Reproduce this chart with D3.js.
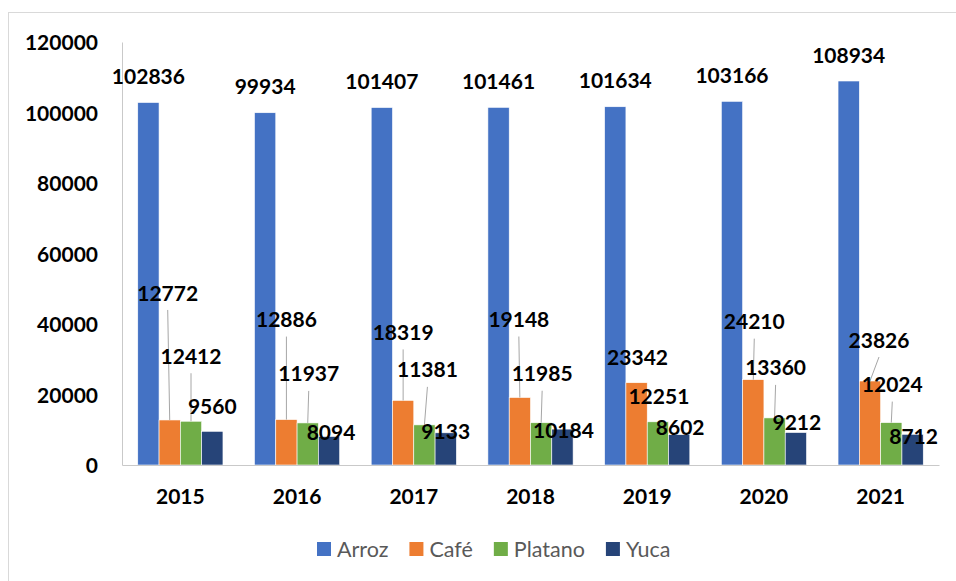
<!DOCTYPE html>
<html>
<head>
<meta charset="utf-8">
<script src="https://cdn.jsdelivr.net/npm/d3@7"></script>
<style>
  body { margin: 0; background: #fff; }
  svg { display: block; }
  text { font-family: Lato, "Open Sans", sans-serif; }
</style>
</head>
<body>
<svg id="chart" width="956" height="581"></svg>
<script>
// data
var years = ["2015", "2016", "2017", "2018", "2019", "2020", "2021"];
var series = ["Arroz", "Café", "Platano", "Yuca"];
var arroz = [102836, 99934, 101407, 101461, 101634, 103166, 108934];
var cafe = [12772, 12886, 18319, 19148, 23342, 24210, 23826];
var platano = [12412, 11937, 11381, 11985, 12251, 13360, 12024];
var yuca = [9560, 8094, 9133, 10184, 8602, 9212, 8712];
var yTicks = [0, 20000, 40000, 60000, 80000, 100000, 120000];

var colors = ["#4472C4", "#ED7D31", "#70AD47", "#264478"];

// where the (hand moved) labels sit, in px from the bar top
var labelDx = [
  [0, 0, 0, 0, 0, 0, 0],
  [-2, 0, 0, -1, 1, 1, 9],
  [0, 1, 3, 1, 1, 1, 1],
  [0, 2, 0, 1, 1, 1, 1]
];
var labelDy = [
  [-26, -26, -26, -26, -26, -26, -26],
  [-127, -100, -68, -78, -25, -58, -41],
  [-65, -49, -55, -49, -25, -50, -38],
  [-25, -4, -1, 1, -7, -10, 2]
];

var values = [arroz, cafe, platano, yuca];

var rows = [];
years.forEach(function (yr, i) {
  series.forEach(function (s, j) {
    rows.push({ year: yr, key: s, si: j, yi: i, value: values[j][i] });
  });
});

var svg = d3.select("#chart");

// chart area border (only top/left visible in the picture)
svg.append("rect")
  .attr("x", 8.5).attr("y", 12.5)
  .attr("width", 1000).attr("height", 1000)
  .attr("fill", "none")
  .attr("stroke", "#d9d9d9");

var plotLeft = 122, plotRight = 939, plotTop = 42, plotBottom = 465;
var fs = 21;

var x0 = d3.scaleBand().domain(years).range([plotLeft, plotRight])
  .paddingInner(0.27).paddingOuter(0.135);
var x1 = d3.scaleBand().domain(series).range([0, x0.bandwidth()]);
var y = d3.scaleLinear().domain([0, 120000]).range([plotBottom, plotTop]);

// y axis
var yAxis = svg.append("g")
  .attr("transform", "translate(" + plotLeft + ",0)")
  .call(d3.axisLeft(y).tickValues(yTicks).tickSize(0).tickSizeOuter(0).tickPadding(24).tickFormat(d3.format("d")));
yAxis.select(".domain").attr("stroke", "#c9c9c9");
yAxis.selectAll("text")
  .attr("font-size", fs).attr("font-weight", "bold").attr("fill", "#000")
  .attr("font-family", "Lato, sans-serif")
  .attr("dy", "0.36em");

// bars
svg.append("g").selectAll("rect")
  .data(rows)
  .join("rect")
  .attr("x", function (d) { return x0(d.year) + x1(d.key); })
  .attr("y", function (d) { return y(d.value); })
  .attr("width", x1.bandwidth())
  .attr("height", function (d) { return y(0) - y(d.value); })
  .attr("fill", function (d) { return colors[d.si]; })
  .attr("stroke", "#ffffff")
  .attr("stroke-width", 0.6);

// x axis
var xAxis = svg.append("g")
  .attr("transform", "translate(0," + plotBottom + ")")
  .call(d3.axisBottom(x0).tickSize(0).tickSizeOuter(0));
xAxis.select(".domain").attr("stroke", "#c9c9c9").attr("stroke-width", 1.2);
xAxis.selectAll("text")
  .attr("font-size", fs).attr("font-weight", "bold").attr("fill", "#000")
  .attr("font-family", "Lato, sans-serif")
  .attr("y", 31).attr("dy", "0.36em");

// leader lines
function barX(d) { return x0(d.year) + x1(d.key) + x1.bandwidth() / 2; }
function lblX(d) { return barX(d) + labelDx[d.si][d.yi]; }
function lblY(d) { return y(d.value) + labelDy[d.si][d.yi]; }

svg.append("g").selectAll("line")
  .data(rows.filter(function (d) { return labelDy[d.si][d.yi] < -32; }))
  .join("line")
  .attr("x1", lblX)
  .attr("y1", function (d) { return lblY(d) + 17; })
  .attr("x2", barX)
  .attr("y2", function (d) { return y(d.value); })
  .attr("stroke", "#a6a6a6")
  .attr("stroke-width", 1);

// data labels
svg.append("g").selectAll("text")
  .data(rows)
  .join("text")
  .attr("x", lblX)
  .attr("y", lblY)
  .attr("dy", "0.36em")
  .attr("text-anchor", "middle")
  .attr("font-size", fs)
  .attr("font-weight", "bold")
  .attr("fill", "#000")
  .text(function (d) { return d.value; });

// legend
var legend = svg.append("g");
var lx = 317, ly = 549;
series.forEach(function (s, j) {
  legend.append("rect")
    .attr("x", lx).attr("y", ly - 7)
    .attr("width", 14).attr("height", 14)
    .attr("fill", colors[j]);
  var t = legend.append("text")
    .attr("x", lx + 20).attr("y", ly)
    .attr("dy", "0.36em")
    .attr("font-size", 21.5)
    .attr("fill", "#595959")
    .text(s);
  lx += 20 + t.node().getComputedTextLength() + 21;
});
</script>
</body>
</html>
